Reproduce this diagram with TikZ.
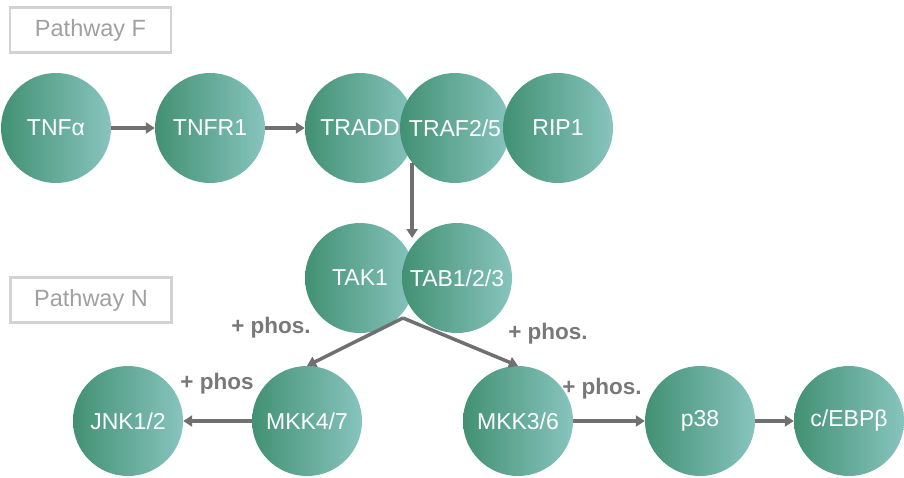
\documentclass[tikz,border=0pt]{standalone}
\usepackage{fontspec}
\setmainfont{Liberation Sans}
\usetikzlibrary{arrows.meta}
\definecolor{gdark}{RGB}{66,145,115}
\definecolor{glight}{RGB}{135,196,190}
\definecolor{arrgray}{RGB}{112,112,112}
\definecolor{boxgray}{RGB}{210,210,210}
\definecolor{boxtext}{RGB}{160,160,160}
\definecolor{phosgray}{RGB}{120,120,120}
\begin{document}
\begin{tikzpicture}[x=1pt,y=-1pt,
  mol/.style={circle,minimum size=110pt,inner sep=0pt,left color=gdark,right color=glight,
    text=white,font=\fontsize{23}{25}\selectfont},
  arr/.style={draw=arrgray,line width=3.5pt,-{Triangle[length=9pt,width=11pt]}},
  pbox/.style={draw=boxgray,line width=2.5pt,minimum width=161pt,minimum height=45pt,
    inner sep=0pt,text=boxtext,font=\fontsize{23.5}{25}\selectfont},
  phos/.style={text=phosgray,font=\bfseries\fontsize{22.5}{24}\selectfont,inner sep=0pt}]
\useasboundingbox (0,0) rectangle (904,477);
\node[pbox] (pf) at (90.5,30) {Pathway F};
\node[pbox] (pn) at (91,300) {Pathway N};
\node[mol] (tnfa) at (56,128) {TNFα};
\node[mol] (tnfr1) at (210,128) {TNFR1};
\node[mol] (tradd) at (360,128) {TRADD};
\node[mol] (traf) at (455,128) {TRAF2/5};
\node[mol] (rip1) at (558,128) {RIP1};
\node[mol] (tak1) at (360,278) {TAK1};
\node[mol] (tab) at (457,278) {TAB1/2/3};
\node[mol] (jnk) at (128,421) {JNK1/2};
\node[mol] (mkk47) at (307,421) {MKK4/7};
\node[mol] (mkk36) at (518,421) {MKK3/6};
\node[mol] (p38) at (700,421) {p38};
\node[mol] (cebp) at (849,421) {c/EBPβ};
\coordinate (j1) at (410,238);
\coordinate (j2) at (403,318);
\draw[arr] (tnfa) -- (tnfr1);
\draw[arr] (tnfr1) -- (tradd);
\draw[arr] (traf.219) -- (traf.219 |- j1);
\draw[arr] (j2) -- (mkk47.north);
\draw[arr] (j2) -- (mkk36.north);
\draw[arr] (mkk47) -- (jnk);
\draw[arr] (mkk36) -- (p38);
\draw[arr] (p38) -- (cebp);
\node[phos] (l1) at (271,328) {+ phos.};
\node[phos] (l2) at (548,334) {+ phos.};
\node[phos] (l3) at (217,384) {+ phos};
\node[phos] (l4) at (602,389) {+ phos.};
\end{tikzpicture}
\end{document}
